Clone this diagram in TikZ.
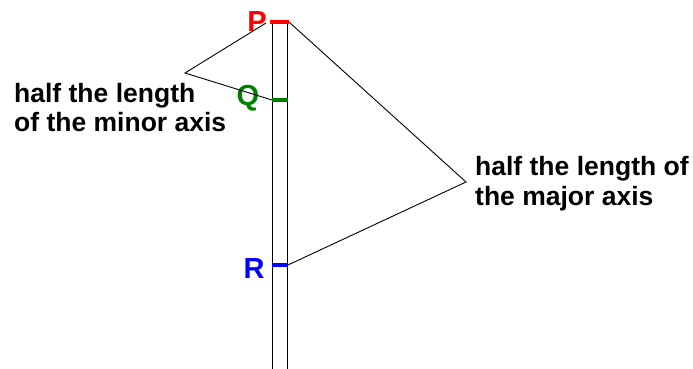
\documentclass[tikz,border=0pt]{standalone}
\usepackage{fontspec}
\setmainfont{Liberation Sans}
\tikzset{
  thin line/.style={draw=black, line width=0.9pt},
  markline/.style={line width=4pt},
  lbl/.style={font=\bfseries\fontsize{26.5}{29.5}\selectfont, inner sep=0pt, align=left, anchor=base west},
  ptlbl/.style={font=\bfseries\fontsize{29}{32}\selectfont, inner sep=0pt}
}
\definecolor{pred}{RGB}{255,0,0}
\definecolor{qgreen}{RGB}{0,128,0}
\definecolor{rblue}{RGB}{0,0,255}
\begin{document}
\begin{tikzpicture}[x=1pt,y=-1pt]
\useasboundingbox (0,0) rectangle (693,369);
% rod
\coordinate (LT) at (272,22);
\coordinate (LB) at (272,369);
\coordinate (RT) at (287,22);
\coordinate (RB) at (287,369);
\draw[thin line] (LT) -- (LB);
\draw[thin line] (RT) -- (RB);
% marks
\coordinate (Pl) at (270,22); \coordinate (Pr) at (289,22);
\coordinate (Ql) at (272,100); \coordinate (Qr) at (288,100);
\coordinate (Rl) at (272,265); \coordinate (Rr) at (288,265);
\draw[markline, pred] (Pl) -- (Pr);
\draw[markline, qgreen] (Ql) -- (Qr);
\draw[markline, rblue] (Rl) -- (Rr);
% point labels
\node[ptlbl, text=pred] (P) at (257,22) {P};
\node[ptlbl, text=qgreen] (Q) at (248,98) {Q};
\node[ptlbl, text=rblue] (R) at (254,269) {R};
% vertices
\coordinate (V1) at (185,73);
\coordinate (V2) at (466,182);
\coordinate (Pend) at (266,23);
\coordinate (Pright) at (289,22);
\draw[thin line] (Pend) -- (V1) -- (Ql);
\draw[thin line] (Pright) -- (V2) -- (Rr);
% texts
\node[lbl] (minor) at (14,131.5) {half the length\\of the minor axis};
\node[lbl] (major) at (475,205) {half the length of\\the major axis};
\end{tikzpicture}
\end{document}
